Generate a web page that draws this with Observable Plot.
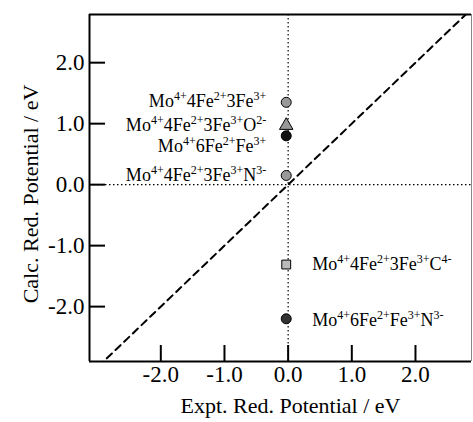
<!DOCTYPE html>
<html><head><meta charset="utf-8">
<script src="https://cdn.jsdelivr.net/npm/d3@7"></script>
<script src="https://cdn.jsdelivr.net/npm/@observablehq/plot@0.6"></script>
<style>body{margin:0;background:#fff;} svg, svg text, svg tspan{font-family:"Liberation Serif","DejaVu Serif",serif !important;font-variant:normal !important;}</style>
</head><body>
<div id="chart"></div>
<script>
const labels = ["Mo⁴⁺4Fe²⁺3Fe³⁺","Mo⁴⁺4Fe²⁺3Fe³⁺O²⁻","Mo⁴⁺6Fe²⁺Fe³⁺","Mo⁴⁺4Fe²⁺3Fe³⁺N³⁻","Mo⁴⁺4Fe²⁺3Fe³⁺C⁴⁻","Mo⁴⁺6Fe²⁺Fe³⁺N³⁻"];
const expt = [-0.03,-0.03,-0.03,-0.03,-0.03,-0.03];
const calc = [1.35,0.97,0.80,0.15,-1.31,-2.20];
const symbols = ["circle","triangle","circle","circle","square","circle"];
const fills = ["#999","#999","#111","#999","#bbb","#333"];
const labelSide = ["left","left","left","left","right","right"];
const labelY = [1.36,0.97,0.63,0.16,-1.31,-2.22];
const xTicks = [-2,-1,0,1,2];
const yTicks = [-2,-1,0,1,2];
const xDomain = [-3.12,2.88];
const yDomain = [-2.90,2.79];
const diag = [xDomain[0], xDomain[1]];

const pts = labels.map((l,i)=>({label:l,x:expt[i],y:calc[i],sym:symbols[i],fill:fills[i],side:labelSide[i],ly:labelY[i]}));
const fmt = d3.format(".1f");
const fmtTick = d => fmt(d).replace("−","-");
const FF = '"Liberation Serif", serif';

const plot = Plot.plot({
  width:473, height:422,
  marginLeft:89, marginRight:2, marginTop:14, marginBottom:61,
  style:{fontFamily:FF, fontSize:"16px", background:"#fff", color:"#000"},
  x:{domain:xDomain, label:null, axis:null},
  y:{domain:yDomain, label:null, axis:null},
  marks:[
    Plot.ruleX([0],{stroke:"#000",strokeWidth:1.2,strokeDasharray:"1.5,2.5"}),
    Plot.ruleY([0],{stroke:"#000",strokeWidth:1.2,strokeDasharray:"1.5,2.5"}),
    Plot.line(diag.map(v=>({x:v,y:v})),{x:"x",y:"y",stroke:"#000",strokeWidth:2,strokeDasharray:"7,5",clip:true}),
    Plot.axisX(xTicks,{anchor:"bottom",tickSize:-16,text:null,strokeWidth:2,label:null}),
    Plot.axisY(yTicks,{anchor:"left",tickSize:-16,text:null,strokeWidth:2,label:null}),
    Plot.text(xTicks,{x:d=>d,frameAnchor:"bottom",dy:20,text:fmtTick,fontSize:23,fontFamily:FF}),
    Plot.text(yTicks,{y:d=>d,frameAnchor:"left",textAnchor:"end",dx:-5,text:fmtTick,fontSize:23,fontFamily:FF}),
    Plot.ruleX([xDomain[0]],{stroke:"#000",strokeWidth:2}),
    Plot.ruleY([yDomain[0],yDomain[1]],{stroke:"#000",strokeWidth:2}),
    Plot.ruleX([xDomain[1]],{stroke:"#888",strokeWidth:1}),
    Plot.dot(pts,{x:"x",y:"y",symbol:"sym",fill:"fill",stroke:"#000",strokeWidth:1,r:5}),
    Plot.text(pts.filter(d=>d.side==="left"),{x:"x",y:"ly",text:"label",textAnchor:"end",dx:-20,fontSize:18,fontFamily:FF,className:"sup"}),
    Plot.text(pts.filter(d=>d.side==="right"),{x:"x",y:"ly",text:"label",textAnchor:"start",dx:26,fontSize:18,fontFamily:FF,className:"sup"}),
    Plot.text(["Expt. Red. Potential / eV"],{frameAnchor:"bottom",dx:10,dy:51,text:d=>d,fontSize:22,fontFamily:FF}),
    Plot.text(["Calc. Red. Potential / eV"],{frameAnchor:"left",textAnchor:"middle",dx:-59,dy:6,rotate:-90,text:d=>d,fontSize:22,fontFamily:FF})
  ],
  symbol:{domain:["circle","triangle","square"],range:["circle","triangle","square"]}
});
// render Unicode superscripts as raised small tspans
const supMap = {"⁰":"0","¹":"1","²":"2","³":"3","⁴":"4","⁵":"5","⁶":"6","⁷":"7","⁸":"8","⁹":"9","⁺":"+","⁻":"-"};
d3.select(plot).selectAll("g.sup text").each(function(){
  const t = d3.select(this);
  const s = t.text();
  t.text(null);
  const parts = s.match(/[⁰¹²³⁴⁵⁶⁷⁸⁹⁺⁻]+|[^⁰¹²³⁴⁵⁶⁷⁸⁹⁺⁻]+/g);
  let raised = false;
  parts.forEach(p=>{
    if (supMap[p[0]]!==undefined) {
      t.append("tspan").attr("dy","-7").attr("font-size","12").text([...p].map(c=>supMap[c]).join(""));
      raised = true;
    } else {
      const ts = t.append("tspan").text(p);
      if (raised) { ts.attr("dy","7"); raised = false; }
    }
  });
});
d3.select(plot).selectAll("text").style("font-family", FF).style("font-variant","normal");
document.getElementById("chart").appendChild(plot);
</script>
</body></html>
